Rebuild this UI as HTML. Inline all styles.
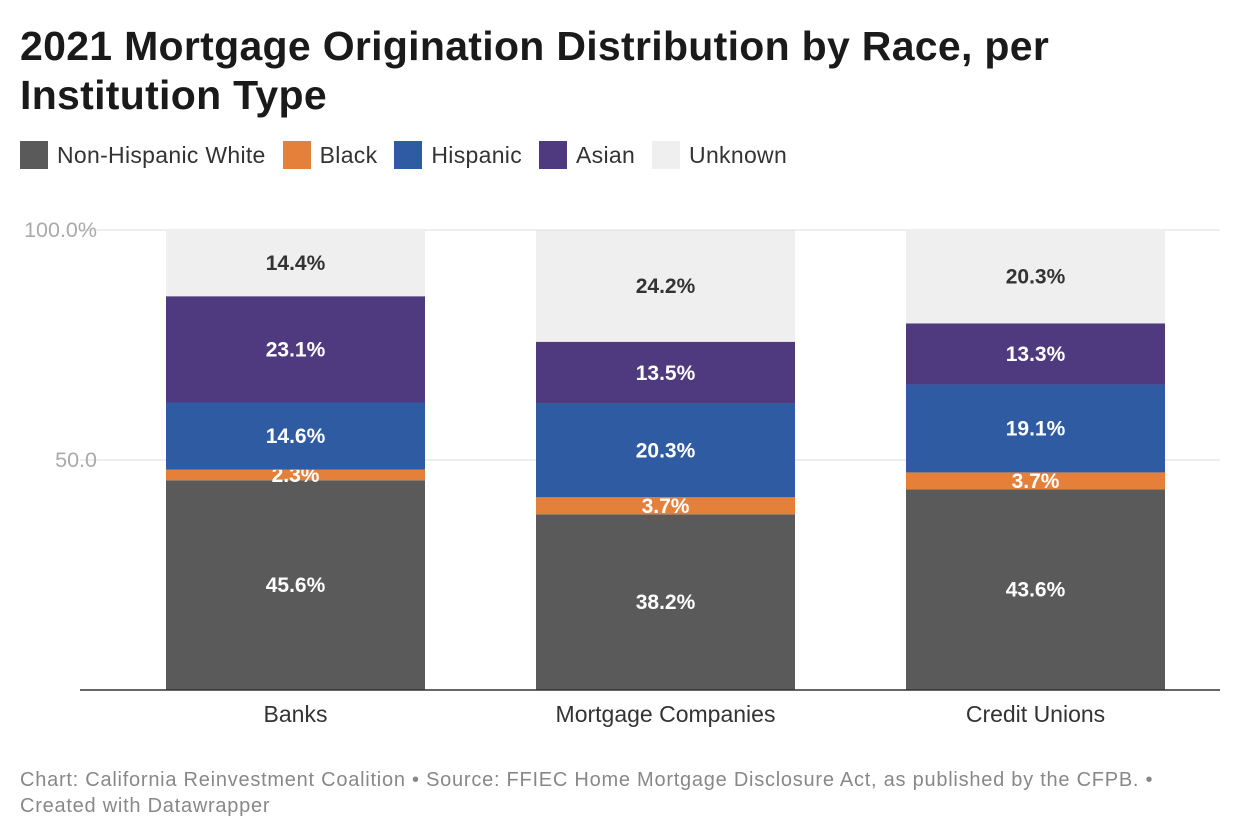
<!DOCTYPE html>
<html><head><meta charset="utf-8"><style>
body{margin:0;width:1240px;height:840px;background:#fff;font-family:"Liberation Sans",Arial,sans-serif;overflow:hidden}
h1{position:absolute;left:20px;top:22px;margin:0;font-size:41px;line-height:49px;font-weight:bold;color:#1a1a1a;letter-spacing:0.3px}
.legend{position:absolute;left:20px;top:141px;display:flex;font-size:23px;color:#333;letter-spacing:0.3px}
.li{display:flex;align-items:center;margin-right:17px}
.sw{width:28px;height:28px;margin-right:9px}
.foot{position:absolute;left:20px;top:767px;font-size:20px;line-height:26px;color:#888;letter-spacing:0.75px}
</style></head><body>
<h1>2021 Mortgage Origination Distribution by Race, per<br>Institution Type</h1>
<div class="legend">
<div class="li"><div class="sw" style="background:#5a5a5a"></div>Non-Hispanic White</div>
<div class="li"><div class="sw" style="background:#e5803a"></div>Black</div>
<div class="li"><div class="sw" style="background:#2f5ba3"></div>Hispanic</div>
<div class="li"><div class="sw" style="background:#4f3a80"></div>Asian</div>
<div class="li"><div class="sw" style="background:#efefef"></div>Unknown</div>
</div>
<svg id="chart" width="1240" height="840" style="position:absolute;left:0;top:0"></svg>
<div class="foot">Chart: California Reinvestment Coalition • Source: FFIEC Home Mortgage Disclosure Act, as published by the CFPB. •<br>Created with Datawrapper</div>
<script>
const categories=["Banks","Mortgage Companies","Credit Unions"];
const seriesNames=["Non-Hispanic White","Black","Hispanic","Asian","Unknown"];
const white=[45.6,38.2,43.6];
const black=[2.3,3.7,3.7];
const hispanic=[14.6,20.3,19.1];
const asian=[23.1,13.5,13.3];
const unknown=[14.4,24.2,20.3];
const ticks=[0,50,100];
const tickLabels=["","50.0","100.0%"];
const colors=["#5a5a5a","#e5803a","#2f5ba3","#4f3a80","#efefef"];
const textColors=["#fff","#fff","#fff","#fff","#333"];
const NS="http://www.w3.org/2000/svg";
const svg=document.getElementById('chart');
const x0=80,x1=1220,yTop=230,yBot=690;
const bx0=110.5,bx1=1220.5;
const y=v=>yBot-(v/100)*(yBot-yTop);
const band=(bx1-bx0)/categories.length, bw=259;
const xc=i=>bx0+band*(i+0.5);
function mk(t,a){const e=document.createElementNS(NS,t);for(const k in a)e.setAttribute(k,a[k]);svg.appendChild(e);return e;}
ticks.forEach((t,i)=>{
 if(t>0){const g=mk('line',{x1:x0,x2:x1,y1:y(t),y2:y(t),stroke:'#ddd','stroke-width':1});
 
 }
 const tl=mk('text',{x:97,y:y(t)+7,'text-anchor':'end','font-size':21.5,fill:'#aaa'});
 tl.textContent=tickLabels[i];
 
 
});
const all=[white,black,hispanic,asian,unknown];
const keys=["white","black","hispanic","asian","unknown"];
categories.forEach((c,i)=>{
 let cum=0;
 all.forEach((s,j)=>{
  const v=s[i];
  const r=mk('rect',{x:xc(i)-bw/2,y:y(cum+v),width:bw,height:y(cum)-y(cum+v),fill:colors[j]});
  
  
  const t=mk('text',{x:xc(i),y:(y(cum)+y(cum+v))/2+7,'text-anchor':'middle','font-size':21,'font-weight':'bold',fill:textColors[j]});
  t.textContent=v.toFixed(1)+'%';
  
  
  cum+=v;
 });
 const cl=mk('text',{x:xc(i),y:722,'text-anchor':'middle','font-size':23,fill:'#333'});
 cl.textContent=c;
 
 
});
const ax=mk('line',{x1:x0,x2:x1,y1:yBot,y2:yBot,stroke:'#333','stroke-width':1.5});


</script>
</body></html>
